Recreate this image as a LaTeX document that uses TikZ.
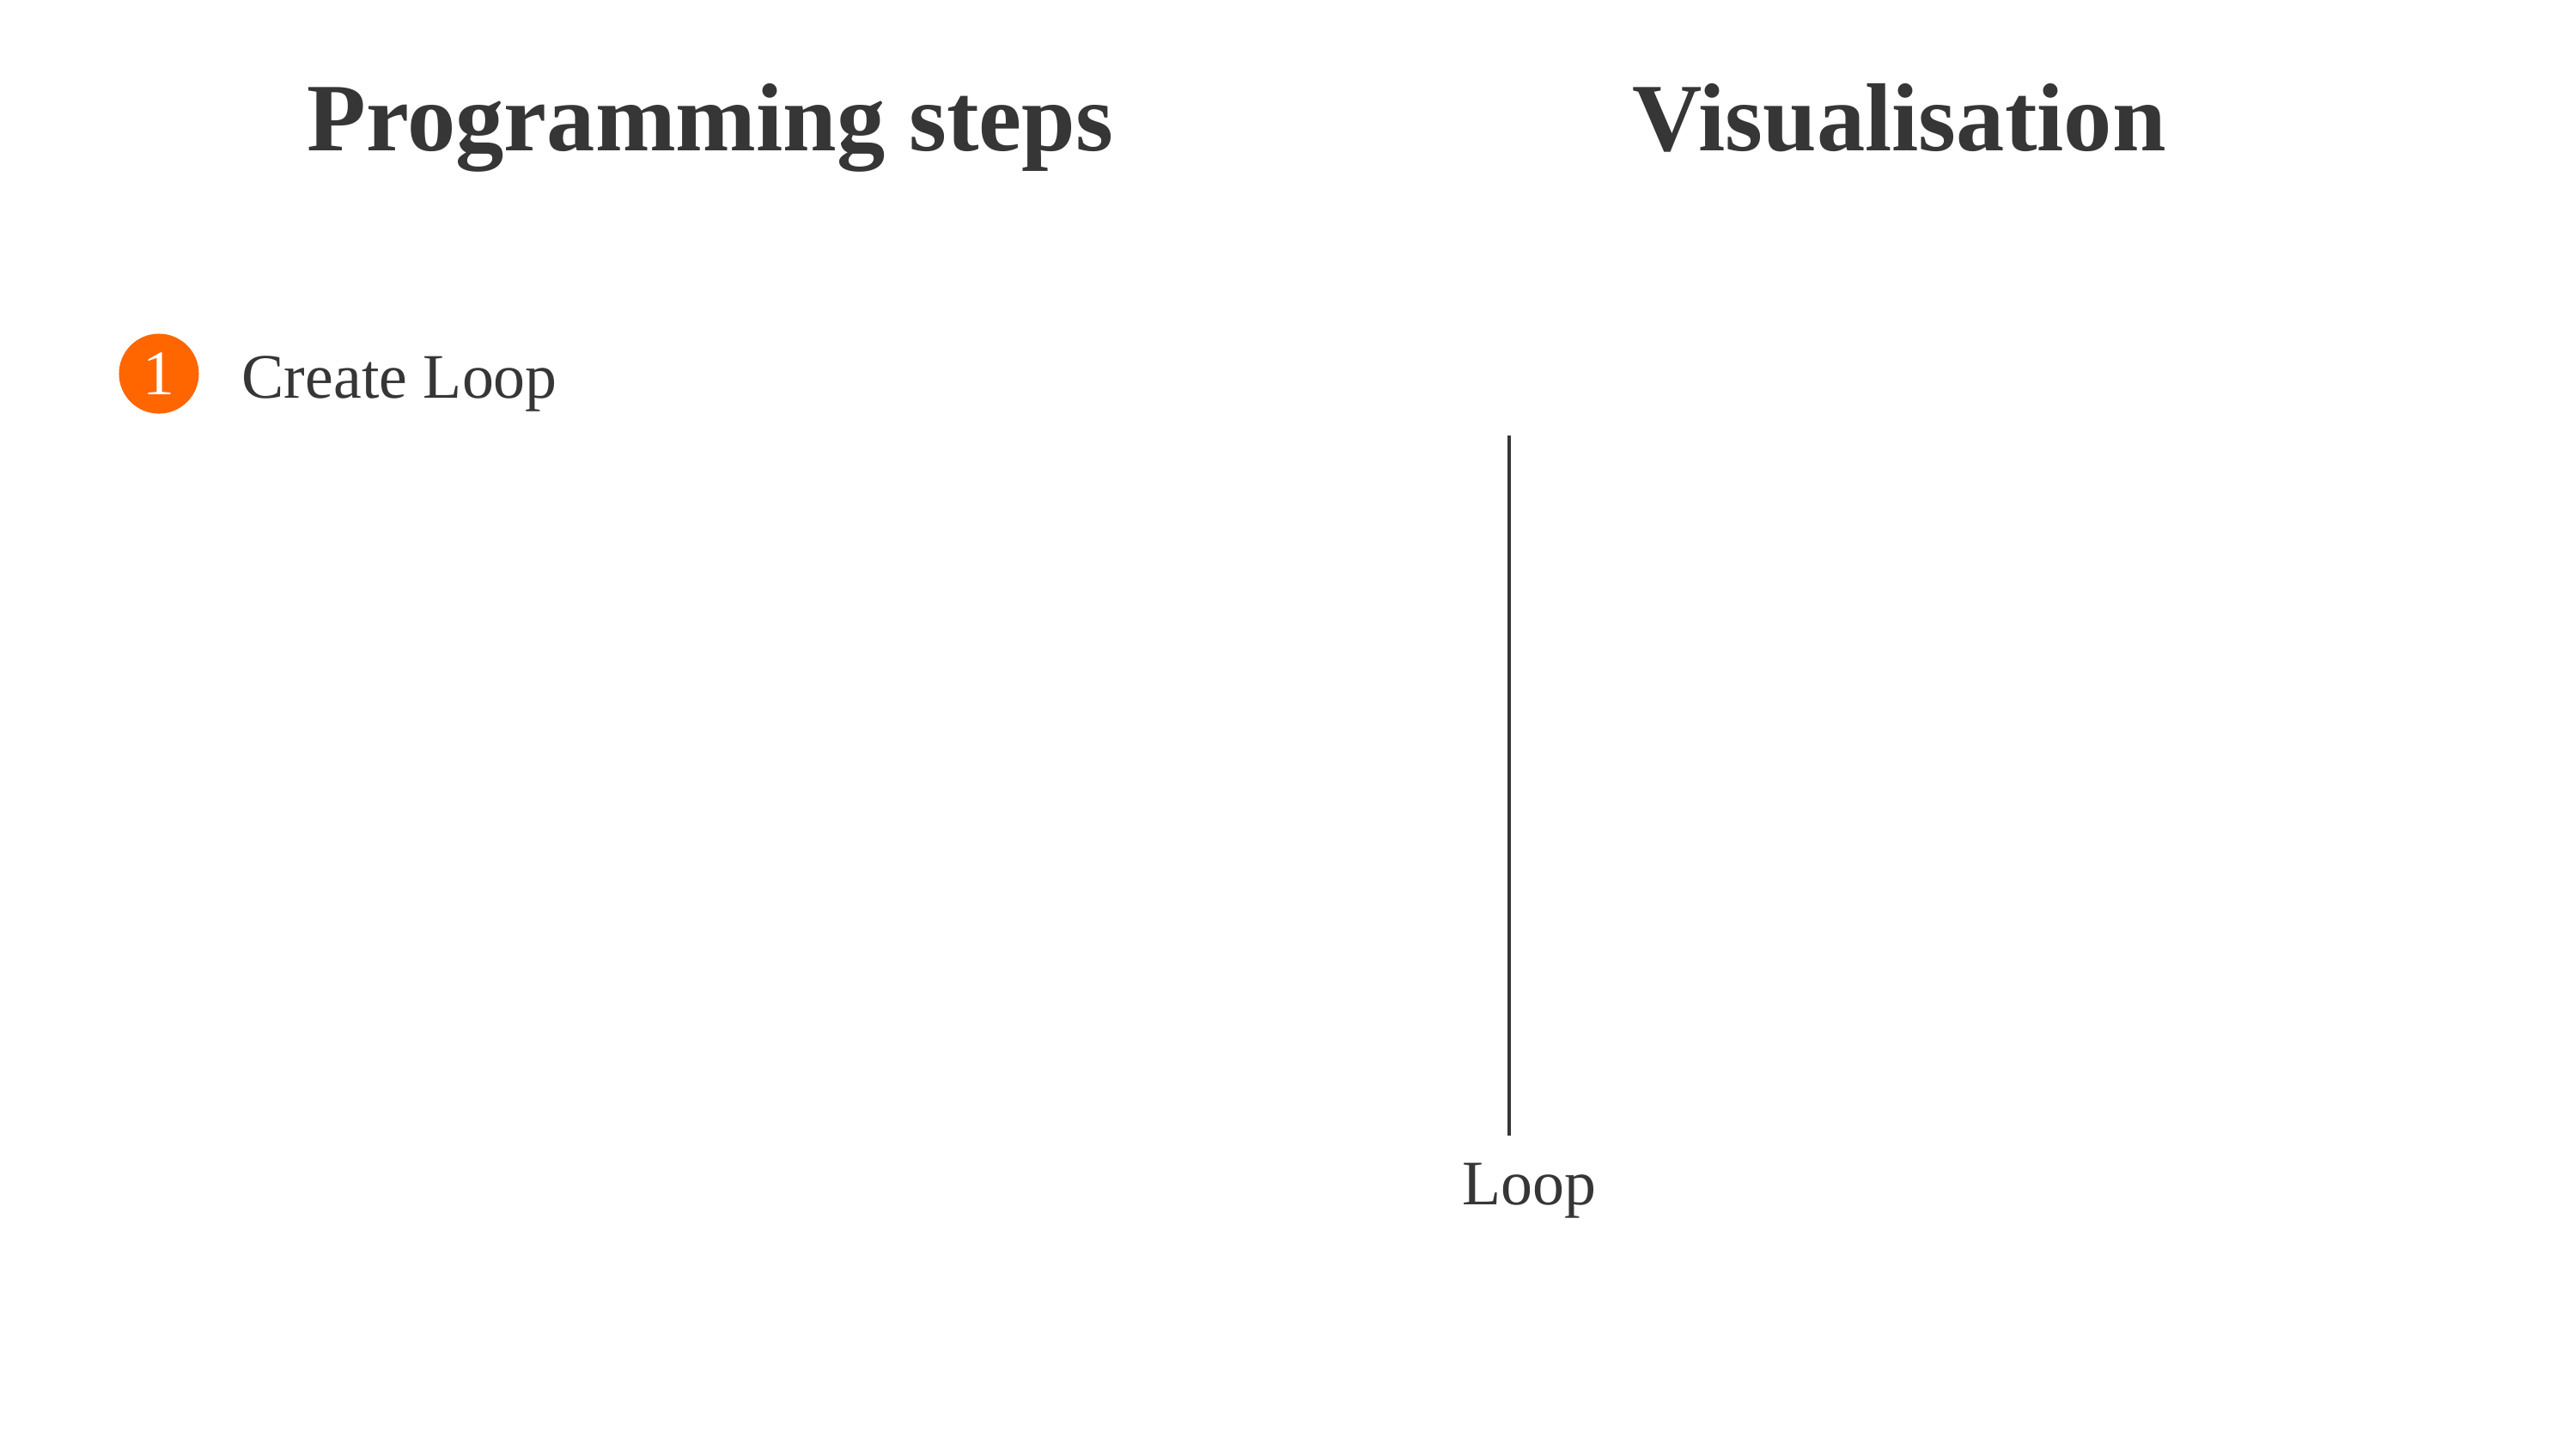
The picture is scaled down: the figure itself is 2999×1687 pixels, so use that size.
\documentclass[tikz,border=0pt]{standalone}
\usepackage{fontspec}
\setmainfont{Liberation Serif}
\definecolor{textgray}{HTML}{363636}
\definecolor{steporange}{HTML}{FF6600}

\begin{document}
\begin{tikzpicture}[x=0.01cm, y=-0.01cm,
    titletext/.style={anchor=base, inner sep=0pt, text=textgray, font=\fontsize{32}{38}\selectfont\bfseries},
    bodytext/.style={inner sep=0pt, text=textgray, font=\fontsize{21}{25}\selectfont},
    stepnum/.style={circle, fill=steporange, text=white, minimum size=0.93cm, inner sep=0pt, font=\fontsize{21}{25}\selectfont}]
  \useasboundingbox (0,0) rectangle (2999,1687);
  % Headings
  \node[titletext] (progtitle) at (827,175) {Programming steps};
  \node[titletext] (vistitle) at (2211,175) {Visualisation};
  % Step 1
  \node[stepnum] (stepone) at (185,435) {1};
  \node[bodytext, anchor=base west] (steponetext) at (281,463) {Create Loop};
  % Visualisation: the loop
  \coordinate (looptop) at (1757,507);
  \coordinate (loopbot) at (1757,1322);
  \draw[textgray, line width=1.4pt] (looptop) -- (loopbot);
  \node[bodytext, anchor=base] (looplabel) at (1780,1402) {Loop};
\end{tikzpicture}
\end{document}
